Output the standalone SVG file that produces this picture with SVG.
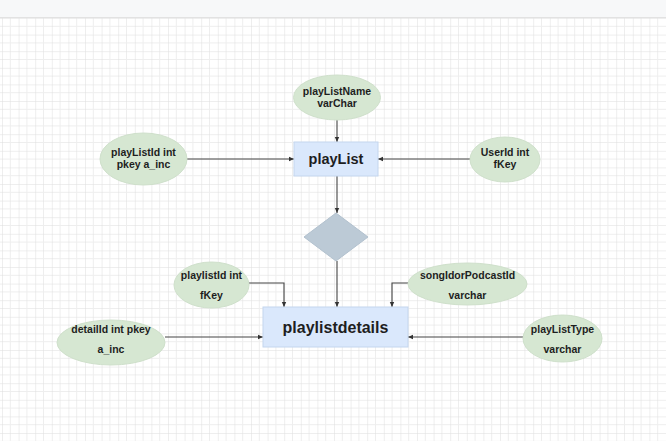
<svg xmlns="http://www.w3.org/2000/svg" width="666" height="441" viewBox="0 0 666 441">
<defs>
<pattern id="grid" x="2" y="18" width="16.6" height="16.6" patternUnits="userSpaceOnUse">
<path d="M8.3 0V16.6M0 8.3H16.6" stroke="#eeeeee" stroke-width="1" fill="none"/>
<path d="M0 0V16.6M0 0H16.6" stroke="#dedede" stroke-width="1" fill="none"/>
</pattern>
<marker id="arr" markerWidth="6" markerHeight="6" refX="5" refY="3" orient="auto" markerUnits="userSpaceOnUse">
<path d="M0 0.8L5 3L0 5.2Z" fill="#333"/>
</marker>
<style>
.attr{fill:#d6e7d2;stroke:#cfe0cb;stroke-width:1}
.ent{fill:#dae8fc;stroke:#c4d6ee;stroke-width:1}
.t{font-family:"Liberation Sans",Arial,sans-serif;font-weight:bold;font-size:10.5px;fill:#1e1e1e;text-anchor:middle}
.big{font-family:"Liberation Sans",Arial,sans-serif;font-weight:bold;fill:#1e1e1e;text-anchor:middle}
.c{fill:none;stroke:#444;stroke-width:1.1;marker-end:url(#arr)}
</style>
</defs>
<rect x="0" y="0" width="666" height="441" fill="#ffffff"/>
<rect x="0" y="18" width="666" height="423" fill="url(#grid)"/>
<rect x="0" y="0" width="666" height="17" fill="#f7f8f9"/>
<line x1="0" y1="17.5" x2="666" y2="17.5" stroke="#e2e2e2"/>

<g id="connectors">
<path class="c" d="M337 120V142"/>
<path class="c" d="M187 159H294"/>
<path class="c" d="M470 159H378"/>
<path class="c" d="M337 176V213"/>
<path class="c" d="M337 261V307"/>
<path class="c" d="M249 283H284V307"/>
<path class="c" d="M165 337H263"/>
<path class="c" d="M408 283H392V307"/>
<path class="c" d="M523 337H408"/>
</g>

<g id="playListName">
<ellipse class="attr" cx="337" cy="97.5" rx="43.5" ry="22.5"/>
<text class="t" x="337" y="95">playListName</text>
<text class="t" x="337" y="107">varChar</text>
</g>
<g id="playListId">
<ellipse class="attr" cx="143.5" cy="159" rx="43.5" ry="26"/>
<text class="t" x="143.5" y="156">playListId int</text>
<text class="t" x="143.5" y="168">pkey a_inc</text>
</g>
<g id="playList">
<rect class="ent" x="294" y="142" width="84" height="34"/>
<text class="big" x="336" y="164" font-size="14.5">playList</text>
</g>
<g id="UserId">
<ellipse class="attr" cx="505" cy="159.5" rx="35" ry="22.5"/>
<text class="t" x="505" y="156">UserId int</text>
<text class="t" x="505" y="168">fKey</text>
</g>
<g id="relationship">
<polygon points="336,213 368,237 336,261 304,237" fill="#bccad6" stroke="#b2c1ce" stroke-width="1"/>
</g>
<g id="playlistId">
<ellipse class="attr" cx="211.5" cy="285" rx="37.5" ry="23"/>
<text class="t" x="211.5" y="279">playlistId int</text>
<text class="t" x="211.5" y="299">fKey</text>
</g>
<g id="songIdorPodcastId">
<ellipse class="attr" cx="467.5" cy="284" rx="59.5" ry="21"/>
<text class="t" x="467.5" y="279">songIdorPodcastId</text>
<text class="t" x="467.5" y="299">varchar</text>
</g>
<g id="playlistdetails">
<rect class="ent" x="263" y="307" width="145" height="40"/>
<text class="big" x="335.5" y="333" font-size="16">playlistdetails</text>
</g>
<g id="detailId">
<ellipse class="attr" cx="111" cy="342.5" rx="54" ry="22.5"/>
<text class="t" x="111" y="333">detailId int pkey</text>
<text class="t" x="111" y="353">a_inc</text>
</g>
<g id="playListType">
<ellipse class="attr" cx="562.5" cy="338.5" rx="39.5" ry="23.5"/>
<text class="t" x="562.5" y="333">playListType</text>
<text class="t" x="562.5" y="353">varchar</text>
</g>
</svg>
